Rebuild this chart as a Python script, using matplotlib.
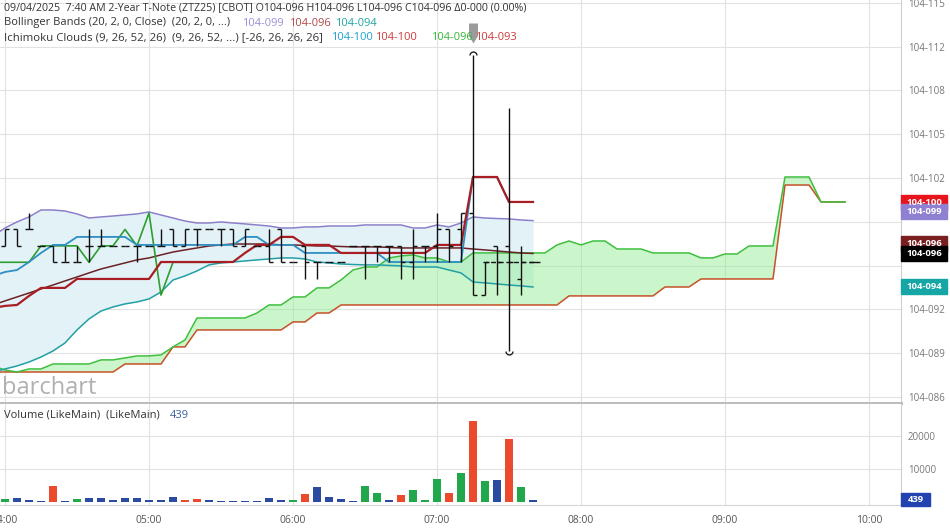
import numpy as np
import matplotlib
matplotlib.use("Agg")
import matplotlib.pyplot as plt
import matplotlib.transforms as mtransforms
from matplotlib.path import Path
from matplotlib.patches import Rectangle

plt.rcParams['font.family'] = ['Open Sans', 'DejaVu Sans']

W, H = 950, 528

# 5 minute bars starting 04:00, prices in 32nds above 104
opens = [9.75, 9.875, 9.875, 9.75, 9.75, 9.625, 9.625, 9.75, 9.75, 9.75,
         9.75, 9.75, 9.75, 9.75, 9.875, 9.75, 9.875, 9.875, 9.875, 9.875,
         9.75, 9.75, 9.75, 9.875, 9.625, 9.75, 9.625, 9.625, 9.625, 9.75,
         9.75, 9.75, 9.75, 9.75, 9.625, 9.75, 9.75, 9.875, 9.875, 10.0,
         9.375, 9.75, 9.75, 9.5, 9.625]
highs = [9.875, 9.875, 10.0, 9.75, 9.75, 9.75, 9.75, 9.875, 9.875, 9.75,
         9.75, 9.75, 9.75, 9.875, 9.875, 9.875, 9.875, 9.875, 9.875, 9.875,
         9.875, 9.75, 9.875, 9.875, 9.625, 9.75, 9.625, 9.625, 9.625, 9.75,
         9.75, 9.75, 9.75, 9.75, 9.875, 9.75, 10.0, 9.875, 10.0, 11.2,
         9.625, 9.75, 10.8, 9.75, 9.625]
lows = [9.75, 9.75, 9.875, 9.75, 9.625, 9.625, 9.625, 9.625, 9.75, 9.75,
        9.75, 9.625, 9.75, 9.75, 9.75, 9.75, 9.75, 9.875, 9.75, 9.75,
        9.75, 9.75, 9.625, 9.625, 9.625, 9.5, 9.5, 9.625, 9.625, 9.75,
        9.5, 9.625, 9.625, 9.5, 9.5, 9.625, 9.625, 9.625, 9.625, 9.375,
        9.375, 9.375, 8.95, 9.375, 9.625]
closes = [9.875, 9.75, 9.875, 9.75, 9.625, 9.625, 9.625, 9.75, 9.75, 9.75,
          9.75, 9.75, 9.75, 9.75, 9.75, 9.875, 9.875, 9.875, 9.875, 9.75,
          9.875, 9.75, 9.625, 9.625, 9.625, 9.625, 9.625, 9.625, 9.625, 9.75,
          9.75, 9.75, 9.75, 9.625, 9.75, 9.75, 9.875, 9.75, 10.0, 9.375,
          9.625, 9.625, 9.625, 9.625, 9.625]
volume = [620, 920, 310, 150, 4600, 100, 820, 920, 920, 310,
          920, 920, 410, 410, 1330, 310, 620, 410, 200, 80,
          80, 80, 1130, 310, 410, 2360, 4500, 1330, 620, 100,
          4700, 2670, 410, 1950, 3600, 310, 6900, 2670, 8600, 24700,
          6260, 6460, 19000, 4400, 439]
vol_kind = "gbbbrbgbbbbbbbbrrbbbbbbbgrbbbbggbrgggrgrgbrgb"

# indicators, one value per bar from the bar before 04:00 up to 07:40
bb_upper = [9.825, 9.886, 9.932, 9.970, 10.023, 10.023, 10.015, 9.993, 9.962, 9.970,
            9.977, 9.985, 9.993, 10.008, 9.985, 9.962, 9.939, 9.924, 9.924, 9.932,
            9.924, 9.917, 9.909, 9.901, 9.886, 9.886, 9.894, 9.894, 9.901, 9.901,
            9.901, 9.909, 9.909, 9.909, 9.909, 9.886, 9.886, 9.909, 9.894, 9.924,
            9.970, 9.962, 9.958, 9.955, 9.947, 9.942]
bb_mid = [9.300, 9.331, 9.361, 9.391, 9.422, 9.452, 9.483, 9.513, 9.544, 9.574,
          9.597, 9.620, 9.643, 9.658, 9.681, 9.703, 9.719, 9.734, 9.749, 9.757,
          9.764, 9.764, 9.764, 9.764, 9.757, 9.757, 9.753, 9.749, 9.749, 9.745,
          9.742, 9.742, 9.742, 9.738, 9.734, 9.734, 9.734, 9.734, 9.734, 9.734,
          9.726, 9.719, 9.711, 9.703, 9.696, 9.692]
bb_lower = [8.790, 8.813, 8.836, 8.866, 8.904, 8.950, 9.011, 9.110, 9.194, 9.254,
            9.285, 9.308, 9.323, 9.346, 9.399, 9.490, 9.521, 9.559, 9.605, 9.620,
            9.627, 9.635, 9.643, 9.650, 9.658, 9.658, 9.650, 9.627, 9.620, 9.612,
            9.608, 9.605, 9.605, 9.601, 9.597, 9.589, 9.589, 9.589, 9.566, 9.544,
            9.475, 9.468, 9.460, 9.452, 9.445, 9.437]
tenkan = [9.521, 9.551, 9.566, 9.627, 9.696, 9.757, 9.757, 9.818, 9.818, 9.818,
          9.818, 9.818, 9.757, 9.757, 9.757, 9.757, 9.757, 9.757, 9.757, 9.757,
          9.757, 9.818, 9.818, 9.757, 9.757, 9.757, 9.696, 9.696, 9.696, 9.696,
          9.696, 9.696, 9.696, 9.627, 9.627, 9.627, 9.627, 9.627, 9.627, 9.627,
          10.274, 10.274, 10.274, 10.084, 10.084, 10.084]
kijun = [9.277, 9.293, 9.300, 9.369, 9.430, 9.430, 9.430, 9.498, 9.498, 9.498,
         9.498, 9.498, 9.498, 9.498, 9.627, 9.627, 9.627, 9.627, 9.627, 9.627,
         9.627, 9.696, 9.757, 9.757, 9.818, 9.818, 9.757, 9.757, 9.757, 9.696,
         9.696, 9.696, 9.696, 9.696, 9.696, 9.696, 9.696, 9.757, 9.757, 9.757,
         10.274, 10.274, 10.274, 10.084, 10.084, 10.084]
# lagging span, shifted back 26 bars
chikou = [9.625, 9.625, 9.625, 9.625, 9.75, 9.75, 9.75, 9.75, 9.625, 9.75,
          9.75, 9.875, 9.75, 10.0, 9.375, 9.625, 9.625, 9.625, 9.625, 9.625]
# leading spans, run 26 bars past the last bar
span_a = [8.836, 8.805, 8.790, 8.813, 8.813, 8.851, 8.851, 8.851, 8.851, 8.882,
          8.882, 8.897, 8.912, 8.912, 8.920, 8.981, 9.034, 9.201, 9.201, 9.201,
          9.201, 9.201, 9.239, 9.300, 9.300, 9.361, 9.361, 9.430, 9.430, 9.490,
          9.566, 9.589, 9.589, 9.658, 9.673, 9.681, 9.658, 9.658, 9.627, 9.627,
          9.696, 9.696, 9.696, 9.696, 9.696, 9.696, 9.696, 9.757, 9.787, 9.757,
          9.787, 9.787, 9.726, 9.726, 9.726, 9.696, 9.696, 9.696, 9.696, 9.658,
          9.658, 9.688, 9.688, 9.749, 9.749, 9.749, 10.274, 10.274, 10.274, 10.084,
          10.084, 10.084]
span_b = [8.790, 8.790, 8.790, 8.790, 8.790, 8.790, 8.790, 8.790, 8.790, 8.790,
          8.790, 8.851, 8.851, 8.851, 8.851, 8.981, 8.981, 9.110, 9.110, 9.110,
          9.110, 9.110, 9.110, 9.110, 9.110, 9.171, 9.171, 9.239, 9.239, 9.300,
          9.300, 9.300, 9.300, 9.300, 9.300, 9.300, 9.300, 9.300, 9.300, 9.300,
          9.300, 9.300, 9.300, 9.300, 9.300, 9.300, 9.300, 9.300, 9.369, 9.369,
          9.369, 9.369, 9.369, 9.369, 9.369, 9.369, 9.437, 9.437, 9.437, 9.498,
          9.498, 9.498, 9.498, 9.498, 9.498, 9.498, 10.213, 10.213, 10.213, 10.084,
          10.084, 10.084]

y_ticks = [8.6, 8.933, 9.267, 9.6, 9.933, 10.267, 10.6, 10.933, 11.267, 11.6]
y_labels = ['104-086', '104-089', '104-092', '', '', '104-102', '104-105',
            '104-108', '104-112', '104-115']
hour_ticks = [0, 60, 120, 180, 240, 300, 360]
hour_labels = ['04:00', '05:00', '06:00', '07:00', '08:00', '09:00', '10:00']

# last value tags on the price scale
tag_vals = [10.080, 10.015, 9.768, 9.688, 9.441]
tag_text = ['104-100', '104-099', '104-096', '104-096', '104-094']
tag_cols = ['#e8141c', '#8f80d2', '#7a1f1f', '#000000', '#17a6a6']

last_close = 9.625

bar_t = np.arange(len(opens)) * 5
ind_t = np.arange(-1, len(bb_upper) - 1) * 5
chk_t = np.arange(-1, len(chikou) - 1) * 5
cld_t = np.arange(-1, len(span_a) - 1) * 5

fig = plt.figure(figsize=(W / 100, H / 100), dpi=100)
ax = fig.add_axes([0, 125 / H, 901 / W, 403 / H])
axv = fig.add_axes([0, 23 / H, 901 / W, 101 / H])

x_lo, x_hi = -2.083, 373.33
ax.set_xlim(x_lo, x_hi)
ax.set_ylim(8.554, 11.621)
axv.set_xlim(x_lo, x_hi)
axv.set_ylim(-1070, 29816)

# Bollinger bands
ax.fill_between(ind_t, bb_lower, bb_upper, color='#e3f2f7', lw=0, zorder=1)
# cloud
sa, sb = np.array(span_a), np.array(span_b)
ax.fill_between(cld_t, sb, sa, where=sa >= sb, interpolate=True,
                color=(0.55, 0.93, 0.55), alpha=0.45, lw=0, zorder=1.5)
ax.plot(cld_t, span_b, color='#c8522a', lw=1.1, zorder=2)
ax.plot(cld_t, span_a, color='#3cbf3c', lw=1.1, zorder=2)

ax.plot(ind_t, bb_upper, color='#8b80c9', lw=1.1, zorder=3)
ax.plot(ind_t, bb_lower, color='#23a0a5', lw=1.1, zorder=3)
ax.plot(ind_t, bb_mid, color='#6b2226', lw=1.1, zorder=3)

ax.plot(chk_t, chikou, color='#2e9e2e', lw=1.2, zorder=4)
ax.plot(ind_t, tenkan, color='#2e8fc4', lw=1.3, zorder=4)
ax.plot(ind_t, kijun, color='#a81e24', lw=1.6, zorder=4)

# OHLC bars
tick = 1.7
ax.vlines(bar_t, lows, highs, color='#111111', lw=1.0, zorder=5)
ax.hlines(opens, bar_t - tick, bar_t, color='#111111', lw=1.0, zorder=5)
ax.hlines(closes, bar_t, bar_t + tick, color='#111111', lw=1.0, zorder=5)
ax.hlines(last_close, 39.8 * 5, 44.6 * 5, color='#111111', lw=1.0,
          linestyles=(0, (3.5, 2)), zorder=5)

# high / low markers
i_hi = int(np.argmax(highs))
i_lo = int(np.argmin(lows))
ax.plot([bar_t[i_hi]], [highs[i_hi]], marker=Path.arc(0, 180), ms=5,
        mfc='none', mec='#222222', mew=1.0, zorder=6)
ax.plot([bar_t[i_lo]], [lows[i_lo]], marker=Path.arc(180, 360), ms=5,
        mfc='none', mec='#222222', mew=1.0, zorder=6)

# grey marker over the biggest bar
arrow = Path([(-0.45, 1), (0.45, 1), (0.45, -0.25), (0, -1), (-0.45, -0.25), (-0.45, 1)],
             closed=True)
ax.plot([bar_t[i_hi]], [11.372], marker=arrow, ms=14.4, color='#9b9b9b',
        mec='none', clip_on=False, zorder=7)

# grid / axes styling
ax.set_yticks(y_ticks)
ax.set_yticklabels(y_labels)
ax.set_xticks(hour_ticks)
ax.yaxis.tick_right()
ax.tick_params(axis='y', length=0, pad=5, labelsize=7, labelcolor='#777777')
ax.tick_params(axis='x', length=0, labelbottom=False)
ax.grid(color='#e2e2e2', lw=0.8, zorder=0)
ax.set_axisbelow(True)
for s in ['top', 'left']:
    ax.spines[s].set_visible(False)
ax.spines['right'].set_color('#cfcfcf')
ax.spines['right'].set_linewidth(0.8)
ax.spines['bottom'].set_color('#bdbdbd')
ax.spines['bottom'].set_linewidth(2.2)

vcol = {'g': '#22a84c', 'b': '#2b4aa2', 'r': '#eb4a2d'}
axv.bar(bar_t, volume, width=3.3, color=[vcol[k] for k in vol_kind], zorder=3)
axv.set_xticks(hour_ticks)
axv.set_xticklabels(hour_labels)
axv.set_yticks([10000, 20000])
axv.set_yticklabels(['10000', '20000'])
axv.yaxis.tick_right()
axv.tick_params(axis='y', length=0, pad=5, labelsize=7, labelcolor='#777777')
axv.tick_params(axis='x', length=0, pad=7, labelsize=7.5, labelcolor='#555555')
axv.grid(color='#e2e2e2', lw=0.8, zorder=0)
axv.set_axisbelow(True)
for s in ['top', 'left']:
    axv.spines[s].set_visible(False)
axv.spines['right'].set_color('#cfcfcf')
axv.spines['right'].set_linewidth(0.8)
axv.spines['bottom'].set_color('#d6d6d6')
axv.spines['bottom'].set_linewidth(0.8)

# value tags
tr = mtransforms.blended_transform_factory(ax.transAxes, ax.transData)
bw = 46 / 901
hh = 7.5 / 131.4
for v, t, c in zip(tag_vals, tag_text, tag_cols):
    ax.add_patch(Rectangle((1.0, v - hh), bw, 2 * hh, transform=tr, color=c,
                           clip_on=False, zorder=8))
    ax.text(1.0 + bw / 2, v, t, transform=tr, color='white', fontsize=6.8,
            fontweight='bold', ha='center', va='center', zorder=9, clip_on=False)

trv = mtransforms.blended_transform_factory(axv.transAxes, axv.transData)
bwv = 29 / 901
axv.add_patch(Rectangle((1.0, 612 - 2140), bwv, 4280, transform=trv, color='#2344b0',
                        clip_on=False, zorder=8))
axv.text(1.0 + bwv / 2, 612, str(volume[-1]), transform=trv, color='white', fontsize=6.8,
         fontweight='bold', ha='center', va='center', zorder=9, clip_on=False)


# legend texts, placed at pixel positions
def txt(x, y, s, color='#333333', size=8):
    fig.text(x / W, 1 - y / H, s, color=color, fontsize=size, va='center',
             ha='left', zorder=10)


txt(4, 8, '09/04/2025  7:40 AM 2-Year T-Note (ZTZ25) [CBOT] O104-096 H104-096 '
          'L104-096 C104-096 \u03940-000 (0.00%)', size=7.65)
txt(4, 23, 'Bollinger Bands (20, 2, 0, Close)  (20, 2, 0, ...)')
txt(242, 23, '104-099', '#9b8fd6')
txt(289, 23, '104-096', '#b04a4a')
txt(335, 23, '104-094', '#1ea5a5')
txt(4, 37.5, 'Ichimoku Clouds (9, 26, 52, 26)  (9, 26, 52, ...) [-26, 26, 26, 26]', size=8.2)
txt(331, 37.5, '104-100', '#1e9fd0')
txt(375, 37.5, '104-100', '#d03a3a')
txt(431, 37.5, '104-096', '#36b536')
txt(475, 37.5, '104-093', '#d03a3a')
txt(4, 415, 'Volume (LikeMain)  (LikeMain)')
txt(170, 415, str(volume[-1]), '#3a5fa0')

fig.text(2 / W, 1 - 388 / H, 'barchart', color='#b0b0b0', fontsize=17,
         va='center', ha='left', zorder=10)

fig.savefig('out.png', dpi=100)
